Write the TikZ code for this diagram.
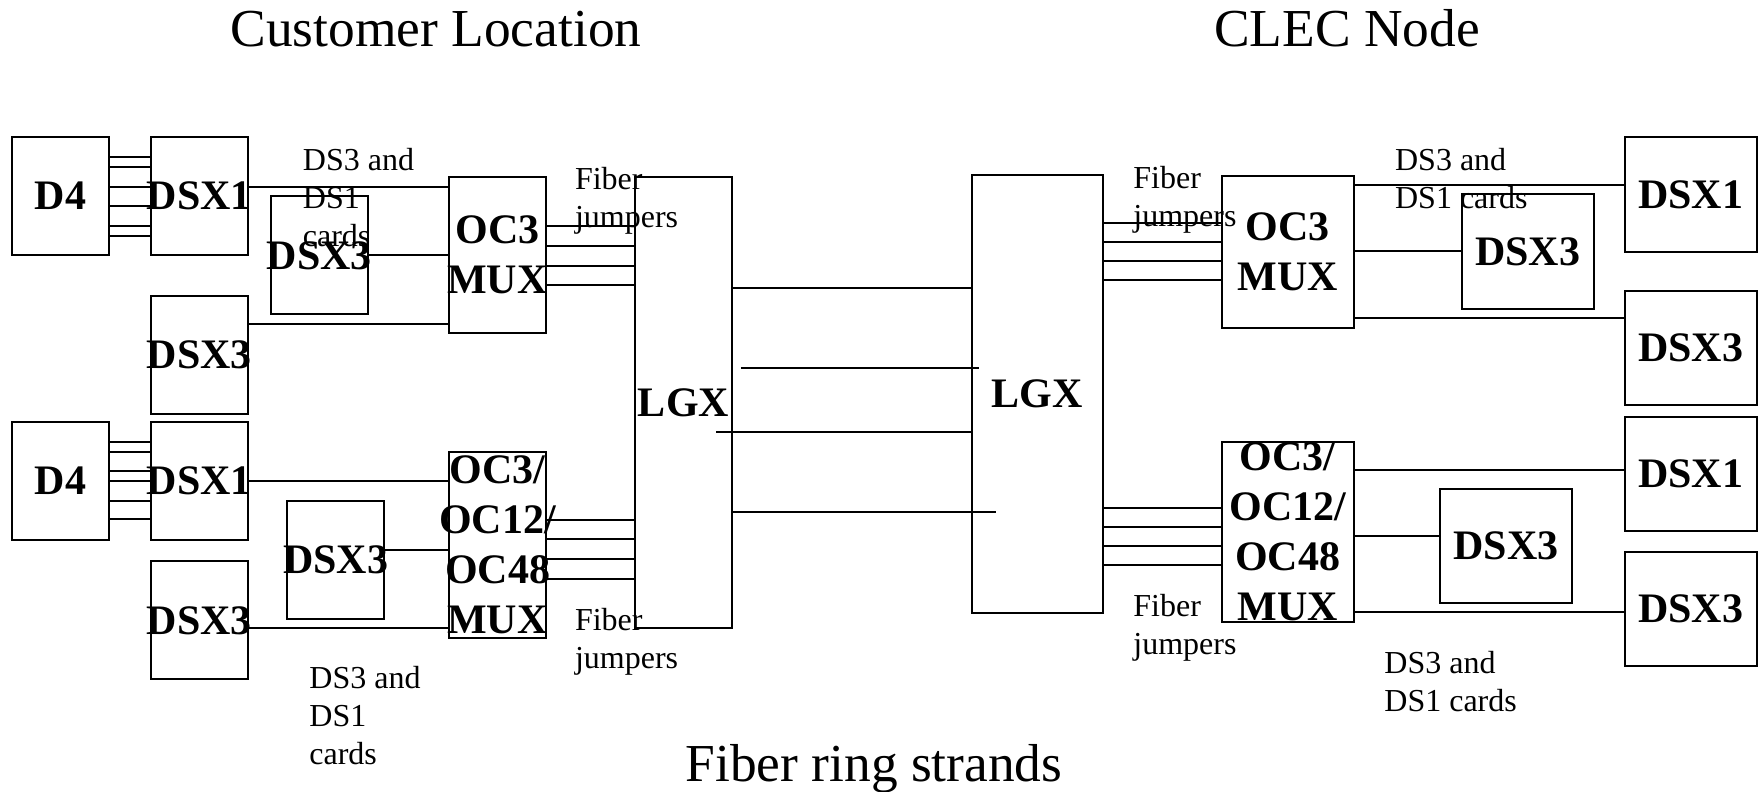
\documentclass[tikz,border=0pt]{standalone}
\usepackage{fontspec}
\setmainfont{Liberation Serif}
\usetikzlibrary{positioning}

\newcommand{\boxfont}{\fontsize{21}{25}\selectfont\bfseries}
\newcommand{\notefont}{\fontsize{16}{19}\selectfont}
\newcommand{\headfont}{\fontsize{26.7}{32}\selectfont}

\begin{document}
\begin{tikzpicture}[
  x=0.5pt, y=-0.5pt,
  box/.style={draw, line width=1pt, inner xsep=-15pt, inner ysep=0pt, font=\boxfont, align=center},
  leftcard/.style={box, minimum width=48.5pt, minimum height=59pt},
  rightcard/.style={box, minimum width=66pt, minimum height=57pt},
  note/.style={inner sep=0pt, font=\notefont, align=left, anchor=north west},
  head/.style={inner sep=0pt, font=\headfont, anchor=base},
  wire/.style={line width=1pt}
]
  \useasboundingbox (0,0) rectangle (1763,792);

  % titles
  \node[head] (custtitle) at (436,47) {Customer Location};
  \node[head] (clectitle) at (1347,47) {CLEC Node};
  \node[head] (ringtitle) at (874,781) {Fiber ring strands};

  % customer location
  \node[leftcard] (d4a) at (60.5,196) {D4};
  \node[leftcard, right=20pt of d4a] (dsxa1) {DSX1};
  \node[leftcard, below=19.6pt of dsxa1] (dsxa3) {DSX3};
  \node[leftcard] (dsxa3in) at (319.3,255.4) {DSX3};
  \node[box, minimum width=48.5pt, minimum height=78.3pt] (muxa) at (497.5,255) {OC3\\MUX};

  \node[leftcard] (d4b) at (60.5,481.2) {D4};
  \node[leftcard, right=20pt of d4b] (dsxb1) {DSX1};
  \node[leftcard, below=9.6pt of dsxb1] (dsxb3) {DSX3};
  \node[leftcard] (dsxb3in) at (335.7,559.5) {DSX3};
  \node[box, minimum width=48.5pt, minimum height=93pt] (muxb) at (497.5,544.7) {OC3/\\OC12/\\OC48\\MUX};

  \node[box, minimum width=48.5pt, minimum height=225.8pt] (lgxl) at (683.5,402.5) {LGX};

  % CLEC node
  \node[box, minimum width=65.5pt, minimum height=218.9pt] (lgxr) at (1037.2,393.8) {LGX};
  \node[box, minimum width=65.8pt, minimum height=76pt] (muxc) at (1287.8,251.7) {OC3\\MUX};
  \node[box, minimum width=65.8pt, minimum height=90.3pt] (muxd) at (1287.8,532) {OC3/\\OC12/\\OC48\\MUX};
  \node[rightcard] (dsxc1) at (1690.8,194.5) {DSX1};
  \node[rightcard, below=18.8pt of dsxc1] (dsxc3) {DSX3};
  \node[rightcard, below=5pt of dsxc3] (dsxd1) {DSX1};
  \node[rightcard, below=9.2pt of dsxd1] (dsxd3) {DSX3};
  \node[rightcard] (dsxc3in) at (1527.5,251.5) {DSX3};
  \node[rightcard] (dsxd3in) at (1506,545.8) {DSX3};

  % labels
  \node[note] (cardsa) at (302.5,148) {DS3 and\\DS1\\cards};
  \node[note] (cardsb) at (309,666) {DS3 and\\DS1\\cards};
  \node[note] (cardsc) at (1394.7,148) {DS3 and\\DS1 cards};
  \node[note] (cardsd) at (1384,651) {DS3 and\\DS1 cards};
  \node[note] (jumpa) at (574.6,167) {Fiber\\jumpers};
  \node[note] (jumpb) at (574.6,608) {Fiber\\jumpers};
  \node[note] (jumpc) at (1133,166) {Fiber\\jumpers};
  \node[note] (jumpd) at (1133,594) {Fiber\\jumpers};

  % wiring, customer side
  \foreach \y in {157,167,187,206,226,236}
    \draw[wire] (d4a.east |- 0,\y) -- (dsxa1.west |- 0,\y);
  \foreach \y in {442,452,471,481,501,519}
    \draw[wire] (d4b.east |- 0,\y) -- (dsxb1.west |- 0,\y);
  \draw[wire] (dsxa1.east |- 0,187) -- (muxa.west |- 0,187);
  \draw[wire] (dsxa3in.east |- 0,255) -- (muxa.west |- 0,255);
  \draw[wire] (dsxa3.east |- 0,324) -- (muxa.west |- 0,324);
  \draw[wire] (dsxb1.east |- 0,481) -- (muxb.west |- 0,481);
  \draw[wire] (dsxb3in.east |- 0,550) -- (muxb.west |- 0,550);
  \draw[wire] (dsxb3.east |- 0,628) -- (muxb.west |- 0,628);
  \foreach \y in {226,246,266,285}
    \draw[wire] (muxa.east |- 0,\y) -- (lgxl.west |- 0,\y);
  \foreach \y in {520,539,559,579}
    \draw[wire] (muxb.east |- 0,\y) -- (lgxl.west |- 0,\y);

  % fiber ring strands
  \draw[wire] (lgxl.east |- 0,288) -- (lgxr.west |- 0,288);
  \draw[wire] ([xshift=3.9pt]lgxl.east |- 0,368) -- ([xshift=4.2pt]lgxr.west |- 0,368);
  \draw[wire] ([xshift=-8.4pt]lgxl.east |- 0,432) -- (lgxr.west |- 0,432);
  \draw[wire] (lgxl.east |- 0,512) -- ([xshift=12.5pt]lgxr.west |- 0,512);

  % wiring, CLEC side
  \foreach \y in {223,242,261,280}
    \draw[wire] (lgxr.east |- 0,\y) -- (muxc.west |- 0,\y);
  \foreach \y in {508,527,546,565}
    \draw[wire] (lgxr.east |- 0,\y) -- (muxd.west |- 0,\y);
  \draw[wire] (muxc.east |- 0,185) -- (dsxc1.west |- 0,185);
  \draw[wire] (muxc.east |- 0,251) -- (dsxc3in.west |- 0,251);
  \draw[wire] (muxc.east |- 0,318) -- (dsxc3.west |- 0,318);
  \draw[wire] (muxd.east |- 0,470) -- (dsxd1.west |- 0,470);
  \draw[wire] (muxd.east |- 0,536) -- (dsxd3in.west |- 0,536);
  \draw[wire] (muxd.east |- 0,612) -- (dsxd3.west |- 0,612);
\end{tikzpicture}
\end{document}
